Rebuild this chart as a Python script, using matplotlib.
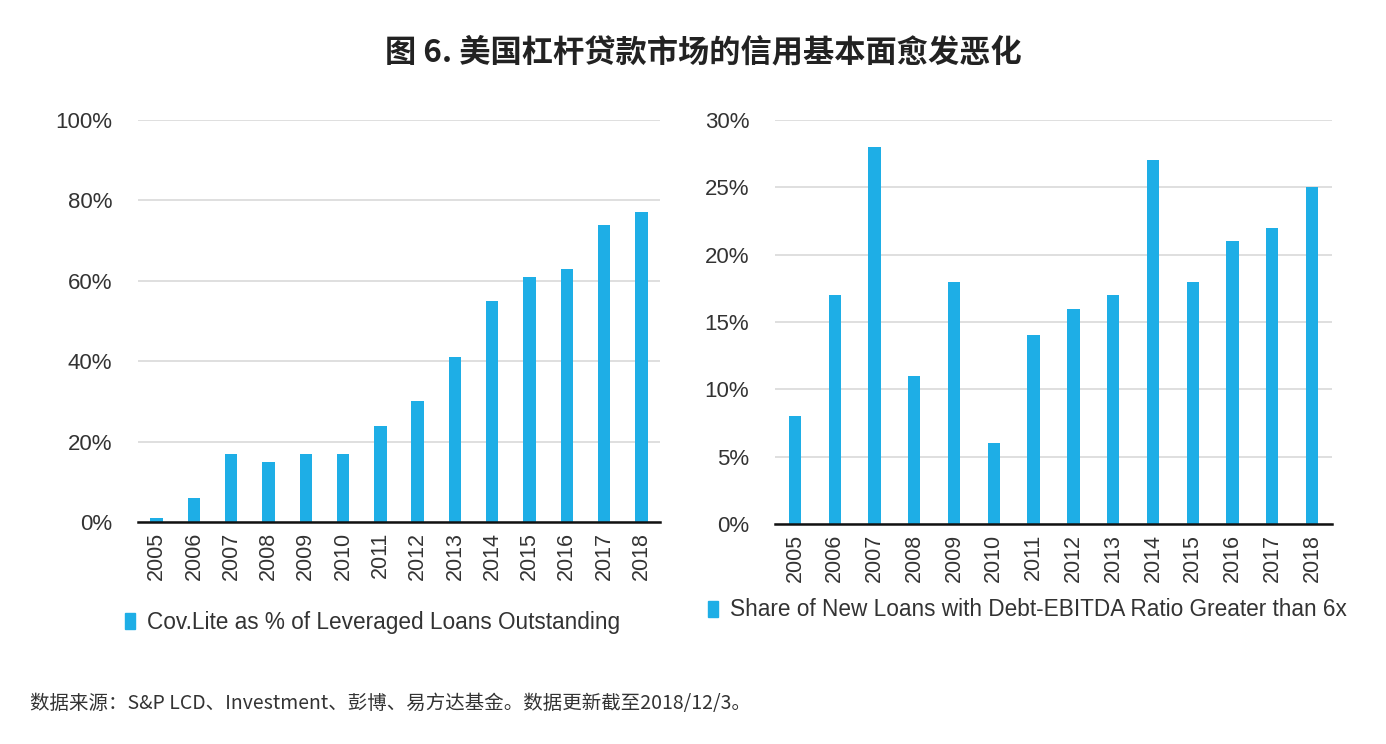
import matplotlib
matplotlib.use("Agg")
import matplotlib.pyplot as plt
from matplotlib.patches import Patch
from matplotlib.ticker import FuncFormatter

years = ["2005", "2006", "2007", "2008", "2009", "2010", "2011",
         "2012", "2013", "2014", "2015", "2016", "2017", "2018"]
cov_lite = [1, 6, 17, 15, 17, 17, 24, 30, 41, 55, 61, 63, 74, 77]
high_lev = [8, 17, 28, 11, 18, 6, 14, 16, 17, 27, 18, 21, 22, 25]
left_ticks = [0, 20, 40, 60, 80, 100]
right_ticks = [0, 5, 10, 15, 20, 25, 30]
left_label = "Cov.Lite as % of Leveraged Loans Outstanding"
right_label = "Share of New Loans with Debt-EBITDA Ratio Greater than 6x"
title = "图 6. 美国杠杆贷款市场的信用基本面愈发恶化"
footnote = "数据来源：S&P LCD、Investment、彭博、易方达基金。数据更新截至2018/12/3。"

bar_color = "#1EAEE6"
text_color = "#333333"
plt.rcParams['font.family'] = ['Liberation Sans', 'DejaVu Sans']

fig = plt.figure(figsize=(13.86, 7.44), dpi=100)
ax1 = fig.add_axes([138/1386, 1-522/744, (660-138)/1386, (522-120)/744])
ax2 = fig.add_axes([775/1386, 1-524/744, (1332-775)/1386, (524-120)/744])

def style(ax, vals, ticks, ytop, width):
    x = list(range(len(years)))
    ax.bar(x, vals, width=width, color=bar_color, zorder=3)
    ax.set_xlim(-0.5, len(years) - 0.5)
    ax.set_ylim(0, ytop)
    ax.set_yticks(ticks)
    ax.yaxis.set_major_formatter(FuncFormatter(lambda v, p: f"{int(v)}%"))
    ax.set_xticks(x)
    ax.set_xticklabels(years, rotation=90)
    ax.grid(axis='y', color='#d9d9d9', linewidth=1.2, zorder=0)
    for s in ['top', 'right', 'left']:
        ax.spines[s].set_visible(False)
    ax.spines['bottom'].set_color('#111111')
    ax.spines['bottom'].set_linewidth(1.8)
    ax.spines['bottom'].set_zorder(4)
    ax.tick_params(axis='y', length=0, labelsize=16, colors=text_color, pad=18.5)
    ax.tick_params(axis='x', length=0, labelsize=15.5, colors=text_color, pad=7)

style(ax1, cov_lite, left_ticks, 100, 0.33)
style(ax2, high_lev, right_ticks, 30, 0.31)

for lab, xa, ya in [(left_label, 125, 622), (right_label, 708, 610)]:
    fig.legend(handles=[Patch(color=bar_color, label=lab)],
               loc='center left', bbox_to_anchor=(xa/1386, 1-ya/744),
               frameon=False, fontsize=16.3, handlelength=0.45, handleheight=0.7,
               handletextpad=0.5, borderpad=0, borderaxespad=0,
               labelcolor=text_color)

fig.text(703/1386, 1-52/744, title, ha='center', va='center', fontsize=22.5,
         fontweight='bold', color='#222222',
         family=['Noto Sans CJK SC', 'DejaVu Sans'])
fig.text(30/1386, 1-703/744, footnote, ha='left', va='center', fontsize=14,
         color='#333333', family=['Noto Sans CJK SC', 'DejaVu Sans'])

fig.savefig("out.png", dpi=100)
